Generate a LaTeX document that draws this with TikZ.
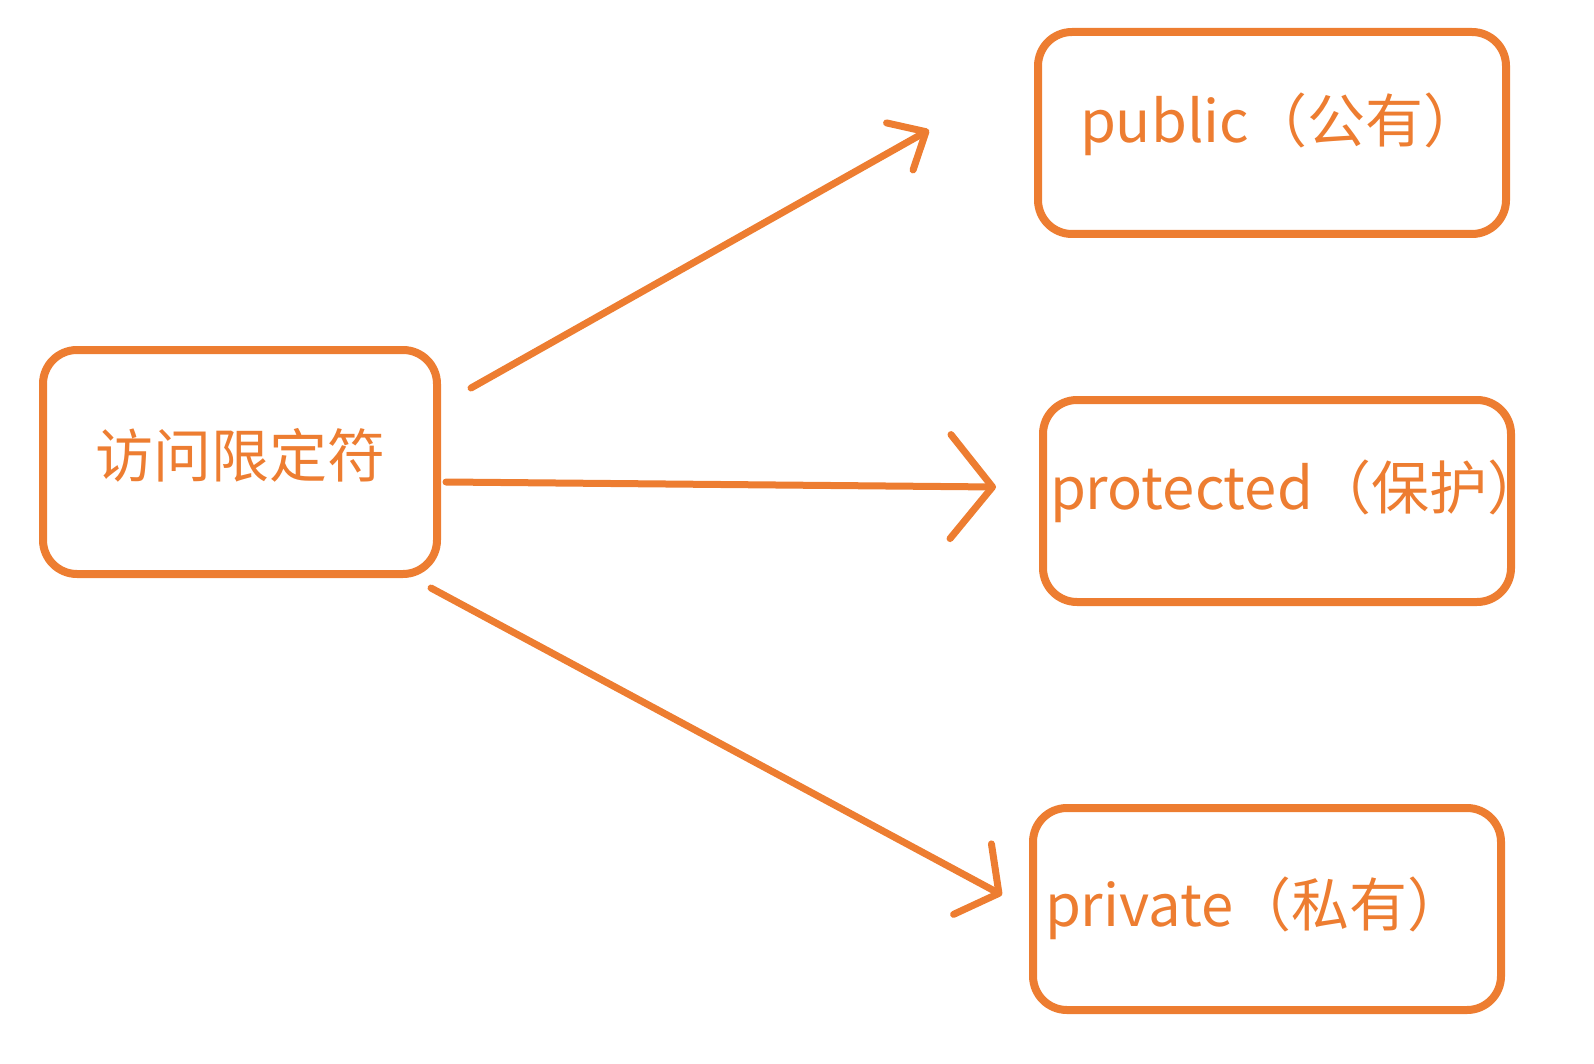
\documentclass[tikz,border=0pt]{standalone}
\usepackage{fontspec}
\setmainfont{Noto Sans CJK SC}
\usetikzlibrary{arrows.meta,positioning}
\definecolor{acorange}{RGB}{237,125,49}

\begin{document}
\begin{tikzpicture}[x=0.5pt,y=-0.5pt,
  box/.style={draw=acorange, line width=4pt, rounded corners=17pt, text=acorange,
    minimum width=234pt, minimum height=101pt, align=left, text height=22pt,
    font=\fontsize{29pt}{34pt}\selectfont},
  arr/.style={draw=acorange, line width=3.5pt, line cap=round}]

  \useasboundingbox (0,0) rectangle (1594,1064);

  \node[box, minimum width=197pt, minimum height=112pt, text depth=7pt] (acc) at (240,462) {访问限定符};
    \node[box, text width=192pt, inner xsep=21pt, text depth=12pt] (pub) at (1272,133) {public（公有）};
    \node[box, text width=227pt, inner xsep=3.5pt, text depth=14pt] (pro) [below=79pt of pub, xshift=2.5pt] {protected（保护）};
    \node[box, text width=222pt, inner xsep=6pt, text depth=5pt] (pri) [below=99pt of pro, xshift=-5pt] {private（私有）};

  \draw[arr, -{Straight Barb[length=15pt,width=27pt,round]}] ([shift={(30,-74)}]acc.east) -- ([shift={(-105,-3)}]pub.west);
  \draw[arr, -{Straight Barb[length=21pt,width=52pt,round]}] ([shift={(5,20)}]acc.east) -- ([shift={(-43,-14)}]pro.west);
  \draw[arr, -{Straight Barb[length=15pt,width=40pt,round]}] ([shift={(-10,126)}]acc.east) -- ([shift={(-27,-14)}]pri.west);

\end{tikzpicture}
\end{document}
